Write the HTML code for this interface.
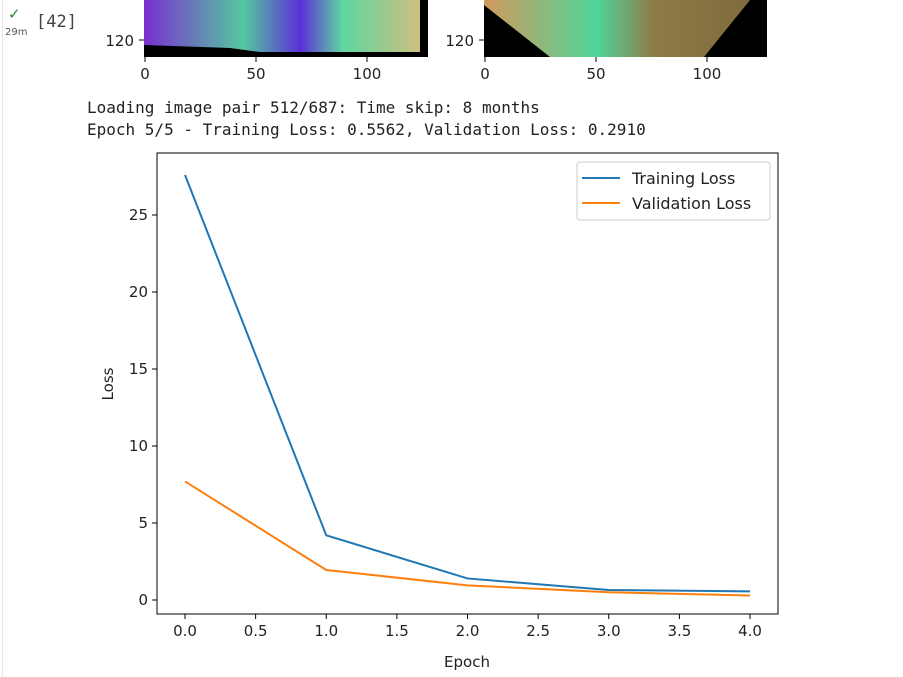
<!DOCTYPE html>
<html><head><meta charset="utf-8"><style>
body{margin:0;width:903px;height:677px;background:#fff;overflow:hidden;font-family:"DejaVu Sans","Liberation Sans",sans-serif;}
.mono{font-family:"DejaVu Sans Mono","Liberation Mono",monospace;font-size:16px;color:#222;position:absolute;left:87px}
</style></head><body>
<div style="position:absolute;left:2px;top:0;width:1px;height:677px;background:#e6e6e6"></div>
<div style="position:absolute;left:8px;top:5px;font-size:15px;color:#2a8a3a">✓</div>
<div style="position:absolute;left:5px;top:27px;font-size:10px;color:#555">29m</div>
<div style="position:absolute;left:36px;top:12px;font-size:17px;color:#444;font-family:'DejaVu Sans Mono',monospace">[42]</div>
<svg width="903" height="677" style="position:absolute;left:0;top:0">
 <defs>
  <linearGradient id="g1" x1="0" x2="1"><stop offset="0" stop-color="#7a2fd0"/><stop offset="0.35" stop-color="#55c8a0"/><stop offset="0.55" stop-color="#5b2fd8"/><stop offset="0.7" stop-color="#5fd6a0"/><stop offset="1" stop-color="#d9bd7d"/></linearGradient>
  <linearGradient id="g2" x1="0" x2="1"><stop offset="0" stop-color="#d39a5e"/><stop offset="0.4" stop-color="#4fd59a"/><stop offset="0.6" stop-color="#8d7a45"/><stop offset="1" stop-color="#7c6a3c"/></linearGradient>
 </defs>
 <g>
  <rect x="144" y="0" width="284" height="57" fill="url(#g1)"/>
  <polygon points="144,45 230,48 260,52 428,52 428,57 144,57" fill="#000"/>
  <rect x="420" y="0" width="8" height="57" fill="#000"/>
  <line x1="139" y1="40" x2="144" y2="40" stroke="#000"/><text x="134" y="46" font-size="15" text-anchor="end" fill="#222">120</text>
  <g font-size="15" fill="#222" text-anchor="middle">
   <line x1="145" y1="57" x2="145" y2="62" stroke="#000"/><text x="145" y="79">0</text>
   <line x1="256" y1="57" x2="256" y2="62" stroke="#000"/><text x="256" y="79">50</text>
   <line x1="367" y1="57" x2="367" y2="62" stroke="#000"/><text x="367" y="79">100</text>
  </g>
 </g>
 <g>
  <rect x="484" y="0" width="283" height="57" fill="url(#g2)"/>
  <polygon points="484,5 550,57 484,57" fill="#000"/>
  <polygon points="750,0 767,0 767,57 704,57" fill="#000"/>
  <line x1="479" y1="40" x2="484" y2="40" stroke="#000"/><text x="474" y="46" font-size="15" text-anchor="end" fill="#222">120</text>
  <g font-size="15" fill="#222" text-anchor="middle">
   <line x1="485" y1="57" x2="485" y2="62" stroke="#000"/><text x="485" y="79">0</text>
   <line x1="596" y1="57" x2="596" y2="62" stroke="#000"/><text x="596" y="79">50</text>
   <line x1="707" y1="57" x2="707" y2="62" stroke="#000"/><text x="707" y="79">100</text>
  </g>
 </g>
 <g id="chart"></g>
</svg>
<div class="mono" style="top:98px">Loading image pair 512/687: Time skip: 8 months</div>
<div class="mono" style="top:120px">Epoch 5/5 - Training Loss: 0.5562, Validation Loss: 0.2910</div>
<script>
const epochs=[0,1,2,3,4];
const trainLoss=[27.6,4.2,1.4,0.65,0.56];
const valLoss=[7.7,1.95,0.95,0.5,0.29];
const xTicks=[0,0.5,1,1.5,2,2.5,3,3.5,4];
const yTicks=[0,5,10,15,20,25];
const NS='http://www.w3.org/2000/svg';
const g=document.getElementById('chart');
const L=157,R=778,T=153,B=614;
const xs=v=>185+v*(750-185)/4;
const ys=v=>600-v*(600-215)/25;
function el(t,a,txt){const e=document.createElementNS(NS,t);for(const k in a)e.setAttribute(k,a[k]);if(txt!=null)e.textContent=txt;g.appendChild(e);return e;}
let f=el('rect',{x:L,y:T,width:R-L,height:B-T,fill:'none',stroke:'#000','stroke-width':1});


xTicks.forEach(v=>{
 const l=el('line',{x1:xs(v),x2:xs(v),y1:B,y2:B+5,stroke:'#000'});
 
 
 const t=el('text',{x:xs(v),y:B+22,'font-size':15,'text-anchor':'middle',fill:'#222'},v.toFixed(1));
 
 
});
yTicks.forEach(v=>{
 const l=el('line',{x1:L-5,x2:L,y1:ys(v),y2:ys(v),stroke:'#000'});
 
 
 const t=el('text',{x:L-9,y:ys(v)+5,'font-size':15,'text-anchor':'end',fill:'#222'},String(v));
 
 
});
let xt=el('text',{x:467,y:667,'font-size':15,'text-anchor':'middle',fill:'#222'},'Epoch');


let yt=el('text',{x:0,y:0,'font-size':15,'text-anchor':'middle',fill:'#222',transform:'translate(113,384) rotate(-90)'},'Loss');


function line(data,color,name){
 const p=el('polyline',{points:data.map((v,i)=>xs(epochs[i])+','+ys(v)).join(' '),fill:'none',stroke:color,'stroke-width':2});
 
 
}
line(trainLoss,'#1f77b4','training-loss-line');
line(valLoss,'#ff7f0e','validation-loss-line');
let lg=el('rect',{x:577,y:162,width:193,height:58,rx:3,fill:'#fff',stroke:'#ccc'});


[['Training Loss','#1f77b4',178],['Validation Loss','#ff7f0e',203]].forEach(([n,c,y])=>{
 const l=el('line',{x1:582,x2:620,y1:y,y2:y,stroke:c,'stroke-width':2});
 
 
 const t=el('text',{x:632,y:y+6,'font-size':16,fill:'#222'},n);
 
 
});
</script>
</body></html>
